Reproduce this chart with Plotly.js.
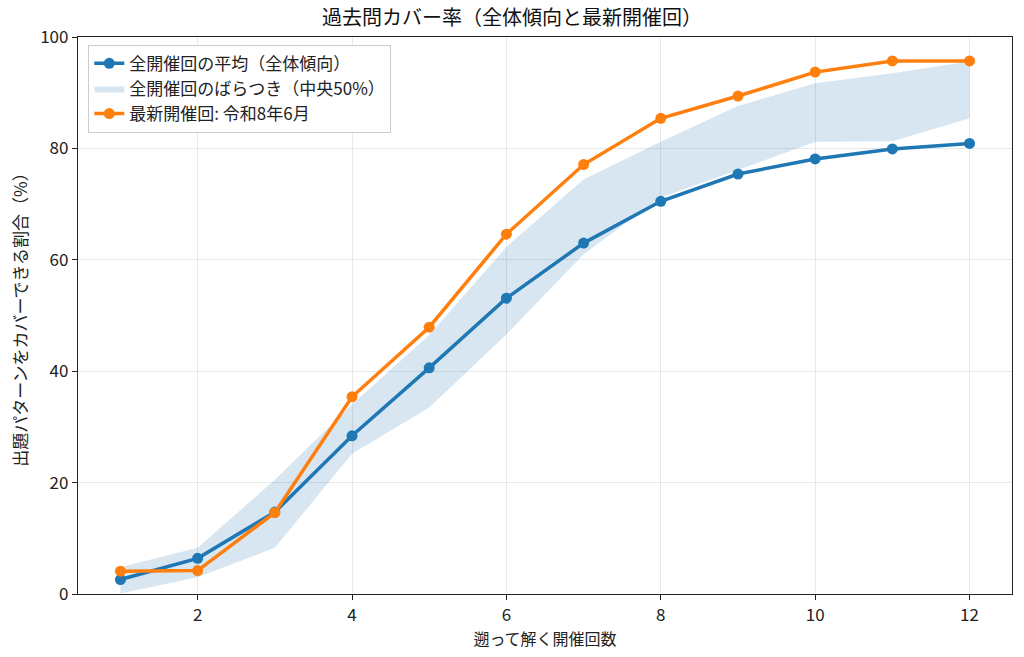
<!DOCTYPE html>
<html>
<head>
<meta charset="utf-8">
<script src="https://cdn.plot.ly/plotly-3.0.1.min.js"></script>
<style>
  html, body { margin: 0; padding: 0; background: #fff; }
  #chart { width: 1024px; height: 657px; }
</style>
</head>
<body>
<div id="chart"></div>
<script>
// 遡って解く開催回数
const kaisu = [1, 2, 3, 4, 5, 6, 7, 8, 9, 10, 11, 12];
// 全開催回の平均
const heikin = [2.6, 6.4, 14.7, 28.4, 40.6, 53.1, 63.0, 70.5, 75.4, 78.1, 79.9, 80.9];
// 中央50%の下端・上端
const bandLow = [0.1, 3.0, 8.3, 25.2, 33.5, 46.6, 61.0, 71.2, 76.1, 81.2, 81.3, 85.4];
const bandHigh = [4.8, 8.3, 20.5, 34.0, 46.5, 62.3, 74.4, 81.2, 87.6, 91.7, 93.5, 95.6];
// 最新開催回
const saishin = [4.1, 4.2, 14.6, 35.4, 47.9, 64.6, 77.1, 85.4, 89.4, 93.7, 95.7, 95.7];

const fontJP = '"Noto Sans CJK JP", "Noto Sans", sans-serif';

const data = [
    {
        x: kaisu, y: bandLow,
        type: 'scatter', mode: 'lines',
        line: { width: 0, color: 'rgba(31,119,180,0)' },
        showlegend: false, hoverinfo: 'skip'
    },
    {
        x: kaisu, y: bandHigh,
        type: 'scatter', mode: 'lines',
        fill: 'tonexty',
        fillcolor: 'rgba(31,119,180,0.18)',
        line: { width: 0, color: 'rgba(31,119,180,0)' },
        name: '全開催回のばらつき（中央50%）',
        legendrank: 2
    },
    {
        x: kaisu, y: heikin,
        type: 'scatter', mode: 'lines+markers',
        line: { color: '#1f77b4', width: 3.5 },
        marker: { color: '#1f77b4', size: 11 },
        name: '全開催回の平均（全体傾向）',
        legendrank: 1
    },
    {
        x: kaisu, y: saishin,
        type: 'scatter', mode: 'lines+markers',
        line: { color: '#ff7f0e', width: 3.5 },
        marker: { color: '#ff7f0e', size: 11 },
        name: '最新開催回: 令和8年6月',
        legendrank: 3
    }
];

const layout = {
    width: 1024, height: 657,
    margin: { l: 78, r: 12, t: 37, b: 63 },
    paper_bgcolor: '#fff', plot_bgcolor: '#fff',
    font: { family: fontJP, size: 16, color: '#222' },
    title: {
        text: '過去問カバー率（全体傾向と最新開催回）',
        font: { family: fontJP, size: 20, color: '#111' },
        x: 0.5, xanchor: 'center', y: 0.9726, yanchor: 'middle'
    },
    xaxis: {
        range: [0.45, 12.55],
        tickvals: [2, 4, 6, 8, 10, 12],
        ticks: 'outside', ticklen: 5, tickcolor: '#222',
        showline: true, mirror: true, linecolor: '#222', linewidth: 1.3,
        showgrid: true, gridcolor: '#e8e8e8', gridwidth: 1,
        zeroline: false,
        tickfont: { family: fontJP, size: 17, color: '#222' },
        title: { text: '遡って解く開催回数', font: { size: 16 }, standoff: 4 }
    },
    yaxis: {
        range: [0, 100],
        tickvals: [0, 20, 40, 60, 80, 100],
        ticks: 'outside', ticklen: 5, tickcolor: '#222',
        showline: true, mirror: true, linecolor: '#222', linewidth: 1.3,
        showgrid: true, gridcolor: '#e8e8e8', gridwidth: 1,
        zeroline: false,
        tickfont: { family: fontJP, size: 17, color: '#222' },
        title: { text: '出題パターンをカバーできる割合（%）', font: { size: 17 }, standoff: 8 }
    },
    legend: {
        x: 0.011, y: 0.986, xanchor: 'left', yanchor: 'top',
        traceorder: 'normal',
        bgcolor: 'rgba(255,255,255,0.85)',
        bordercolor: '#cccccc', borderwidth: 1,
        font: { size: 17, color: '#222' },
        tracegroupgap: 0
    },
    showlegend: true
};

Plotly.newPlot('chart', data, layout, { displayModeBar: false, responsive: false });
</script>
</body>
</html>
